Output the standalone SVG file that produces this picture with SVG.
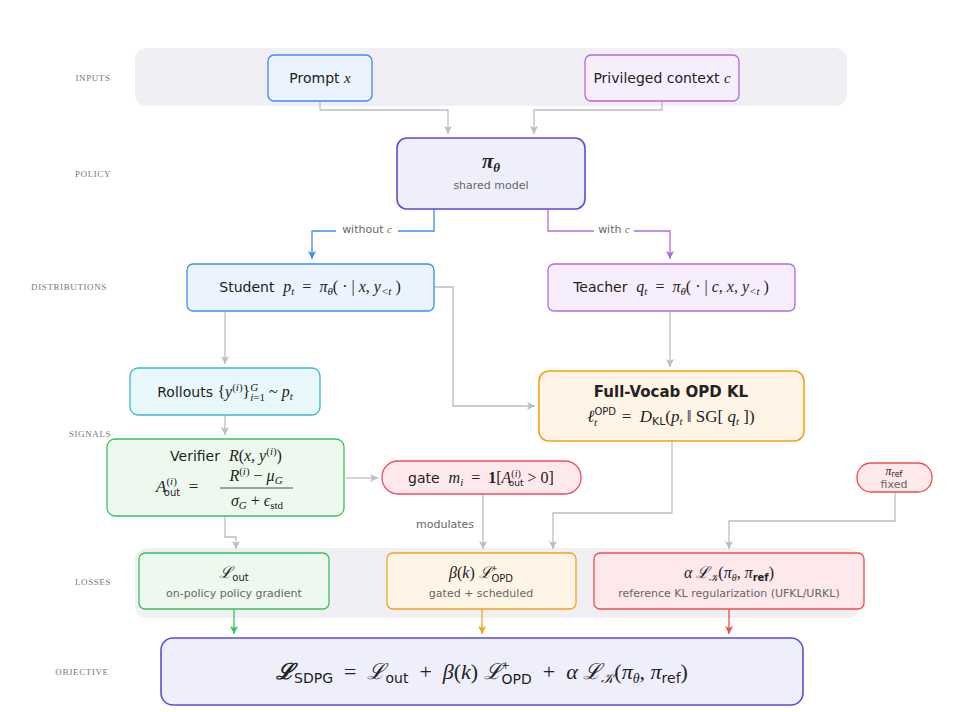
<svg xmlns="http://www.w3.org/2000/svg" width="960" height="712" viewBox="0 0 960 712">
<style>
text{white-space:pre}
.lbl{font-family:"Liberation Serif",serif;font-size:9px;fill:#777;letter-spacing:0.6px;text-anchor:middle}
.t{font-family:"DejaVu Sans","Noto Sans",sans-serif;font-size:14px;fill:#222;text-anchor:middle}
.s{font-family:"DejaVu Sans","Noto Sans",sans-serif;font-size:11px;fill:#666;text-anchor:middle}
.m{font-family:"Liberation Serif",serif;font-style:italic}
.r{font-family:"Liberation Serif",serif;font-style:normal}
.c{fill:none;stroke:#bdbdbd;stroke-width:1.3}
.band{fill:#f0f0f4}
</style>
<defs>
<marker id="ag" markerWidth="10" markerHeight="10" refX="8" refY="5" orient="auto" markerUnits="userSpaceOnUse"><path d="M0,1 L8,5 L0,9 L2,5 Z" fill="#bdbdbd"/></marker>
<marker id="ab" markerWidth="10" markerHeight="10" refX="8" refY="5" orient="auto" markerUnits="userSpaceOnUse"><path d="M0,1 L8,5 L0,9 L2,5 Z" fill="#3b8ef0"/></marker>
<marker id="ap" markerWidth="10" markerHeight="10" refX="8" refY="5" orient="auto" markerUnits="userSpaceOnUse"><path d="M0,1 L8,5 L0,9 L2,5 Z" fill="#b36be0"/></marker>
<marker id="agr" markerWidth="10" markerHeight="10" refX="8" refY="5" orient="auto" markerUnits="userSpaceOnUse"><path d="M0,1 L8,5 L0,9 L2,5 Z" fill="#3cc060"/></marker>
<marker id="ao" markerWidth="10" markerHeight="10" refX="8" refY="5" orient="auto" markerUnits="userSpaceOnUse"><path d="M0,1 L8,5 L0,9 L2,5 Z" fill="#f5a020"/></marker>
<marker id="ar" markerWidth="10" markerHeight="10" refX="8" refY="5" orient="auto" markerUnits="userSpaceOnUse"><path d="M0,1 L8,5 L0,9 L2,5 Z" fill="#f04c4c"/></marker>
</defs>
<rect width="960" height="712" fill="#fff"/>
<rect class="band" x="135" y="48" width="712" height="58" rx="12"/>
<rect class="band" x="135" y="548" width="725" height="70" rx="12"/>
<g id="labels">
<text class="lbl" x="93" y="81">INPUTS</text>
<text class="lbl" x="93" y="177">POLICY</text>
<text class="lbl" x="69" y="290">DISTRIBUTIONS</text>
<text class="lbl" x="90" y="437">SIGNALS</text>
<text class="lbl" x="93" y="585">LOSSES</text>
<text class="lbl" x="82" y="675">OBJECTIVE</text>
</g>
<g id="connectors">
<path class="c" d="M320,101 V110 H448 V134" marker-end="url(#ag)"/>
<path class="c" d="M662,101 V110 H534 V134" marker-end="url(#ag)"/>
<path d="M434,209 V231 H312 V259" fill="none" stroke="#3b8ef0" stroke-width="1.3" marker-end="url(#ab)"/>
<path d="M548,209 V231 H670 V259" fill="none" stroke="#b36be0" stroke-width="1.3" marker-end="url(#ap)"/>
<path class="c" d="M225,311 V364" marker-end="url(#ag)"/>
<path class="c" d="M434,287 H453 V406 H535" marker-end="url(#ag)"/>
<path class="c" d="M670,311 V367" marker-end="url(#ag)"/>
<path class="c" d="M225,415 V435" marker-end="url(#ag)"/>
<path class="c" d="M346,478 H378" marker-end="url(#ag)"/>
<path class="c" d="M225,516 V537 H236 V549" marker-end="url(#ag)"/>
<path class="c" d="M483,494 V549" marker-end="url(#ag)"/>
<path class="c" d="M672,441 V513 H553 V549" marker-end="url(#ag)"/>
<path class="c" d="M895,492 V521 H729 V549" marker-end="url(#ag)"/>
<path d="M234,609 V634" fill="none" stroke="#3cc060" stroke-width="1.3" marker-end="url(#agr)"/>
<path d="M482,609 V634" fill="none" stroke="#f5a020" stroke-width="1.3" marker-end="url(#ao)"/>
<path d="M729,609 V634" fill="none" stroke="#f04c4c" stroke-width="1.3" marker-end="url(#ar)"/>
<rect x="336" y="222" width="62" height="14" fill="#fff"/>
<text class="s" x="367" y="233">without <tspan class="m">c</tspan></text>
<rect x="594" y="222" width="40" height="14" fill="#fff"/>
<text class="s" x="614" y="233">with <tspan class="m">c</tspan></text>
<text class="s" x="445" y="528">modulates</text>
</g>
<g id="prompt">
<rect x="268" y="55" width="104" height="46" rx="6" fill="#eaf3fe" stroke="#3b8ef0" stroke-width="1.3"/>
<text class="t" x="320" y="83">Prompt <tspan class="m" font-size="15">x</tspan></text>
</g>
<g id="privileged">
<rect x="585" y="55" width="154" height="46" rx="6" fill="#f7eefd" stroke="#b36be0" stroke-width="1.3"/>
<text class="t" x="662" y="83">Privileged context <tspan class="m" font-size="15">c</tspan></text>
</g>
<g id="policy">
<rect x="397" y="138" width="188" height="71" rx="10" fill="#efeefb" stroke="#5a4fd6" stroke-width="1.6"/>
<text class="t" x="491" y="168" style="font-size:21px"><tspan class="m" font-weight="bold">π</tspan><tspan class="m" font-weight="bold" font-size="13" dy="4">θ</tspan></text>
<text class="s" x="491" y="189">shared model</text>
</g>
<g id="student">
<rect x="187" y="264" width="247" height="47" rx="6" fill="#eaf3fe" stroke="#3b8ef0" stroke-width="1.3"/>
<text class="t" x="310" y="292">Student  <tspan class="m" font-size="16">p</tspan><tspan class="m" font-size="11" dy="3">t</tspan><tspan class="r" font-size="16" dy="-3">  =  </tspan><tspan class="m" font-size="16">π</tspan><tspan class="m" font-size="11" dy="3">θ</tspan><tspan class="r" font-size="16" dy="-3">( · | </tspan><tspan class="m" font-size="16">x</tspan><tspan class="r" font-size="16">, </tspan><tspan class="m" font-size="16">y</tspan><tspan class="m" font-size="11" dy="3">&lt;t</tspan><tspan class="r" font-size="16" dy="-3"> )</tspan></text>
</g>
<g id="teacher">
<rect x="548" y="264" width="247" height="47" rx="6" fill="#f7eefd" stroke="#b36be0" stroke-width="1.3"/>
<text class="t" x="671" y="292">Teacher  <tspan class="m" font-size="16">q</tspan><tspan class="m" font-size="11" dy="3">t</tspan><tspan class="r" font-size="16" dy="-3">  =  </tspan><tspan class="m" font-size="16">π</tspan><tspan class="m" font-size="11" dy="3">θ</tspan><tspan class="r" font-size="16" dy="-3">( · | </tspan><tspan class="m" font-size="16">c</tspan><tspan class="r" font-size="16">, </tspan><tspan class="m" font-size="16">x</tspan><tspan class="r" font-size="16">, </tspan><tspan class="m" font-size="16">y</tspan><tspan class="m" font-size="11" dy="3">&lt;t</tspan><tspan class="r" font-size="16" dy="-3"> )</tspan></text>
</g>
<g id="rollouts">
<rect x="130" y="368" width="190" height="47" rx="8" fill="#e8f7fa" stroke="#3bb8d0" stroke-width="1.3"/>
<text class="t" x="225" y="397">Rollouts <tspan class="r" font-size="16">{</tspan><tspan class="m" font-size="16">y</tspan><tspan class="r" font-size="11" dy="-6">(</tspan><tspan class="m" font-size="11">i</tspan><tspan class="r" font-size="11">)</tspan><tspan class="r" font-size="16" dy="6">}</tspan><tspan class="m" font-size="11" dy="-6">G</tspan><tspan class="m" font-size="11" dy="10" dx="-8">i</tspan><tspan class="r" font-size="11">=1</tspan><tspan class="r" font-size="16" dy="-4"> ~ </tspan><tspan class="m" font-size="16">p</tspan><tspan class="m" font-size="11" dy="3">t</tspan></text>
</g>
<g id="fullvocab">
<rect x="539" y="371" width="265" height="70" rx="10" fill="#fff5e6" stroke="#f5a020" stroke-width="1.6"/>
<text class="t" x="671" y="397" font-weight="bold" style="font-size:15px">Full-Vocab OPD KL</text>
<text class="t" x="671" y="422"><tspan class="m" font-size="17">ℓ</tspan><tspan font-size="10" dy="-7">OPD</tspan><tspan class="m" font-size="11" dy="11" dx="-22">t</tspan><tspan class="r" font-size="17" dy="-4" dx="16">  =  </tspan><tspan class="m" font-size="17">D</tspan><tspan font-size="11" dy="3">KL</tspan><tspan class="r" font-size="17" dy="-3">(</tspan><tspan class="m" font-size="17">p</tspan><tspan class="m" font-size="11" dy="3">t</tspan><tspan class="r" font-size="17" dy="-3"> ‖ SG[ </tspan><tspan class="m" font-size="17">q</tspan><tspan class="m" font-size="11" dy="3">t</tspan><tspan class="r" font-size="17" dy="-3"> ])</tspan></text>
</g>
<g id="verifier">
<rect x="107" y="439" width="237" height="77" rx="8" fill="#edf9ef" stroke="#3cc060" stroke-width="1.3"/>
<text class="t" x="226" y="461">Verifier  <tspan class="m" font-size="16">R</tspan><tspan class="r" font-size="16">(</tspan><tspan class="m" font-size="16">x, y</tspan><tspan class="r" font-size="11" dy="-6">(</tspan><tspan class="m" font-size="11">i</tspan><tspan class="r" font-size="11">)</tspan><tspan class="r" font-size="16" dy="6">)</tspan></text>
<text x="156" y="492" font-size="17" fill="#222"><tspan class="m">A</tspan><tspan class="r" font-size="11" dy="-7">(</tspan><tspan class="m" font-size="11">i</tspan><tspan class="r" font-size="11">)</tspan><tspan font-family="DejaVu Sans,sans-serif" font-size="10" dy="11" dx="-13">out</tspan><tspan class="r" dy="-4">  =  </tspan></text>
<text x="256" y="481" font-size="16" fill="#222" text-anchor="middle"><tspan class="m">R</tspan><tspan class="r" font-size="11" dy="-6">(</tspan><tspan class="m" font-size="11">i</tspan><tspan class="r" font-size="11">)</tspan><tspan class="r" dy="6"> − </tspan><tspan class="m">μ</tspan><tspan class="m" font-size="11" dy="3">G</tspan></text>
<line x1="220" y1="488" x2="293" y2="488" stroke="#222" stroke-width="0.8"/>
<text x="257" y="506" font-size="16" fill="#222" text-anchor="middle"><tspan class="m">σ</tspan><tspan class="m" font-size="11" dy="3">G</tspan><tspan class="r" dy="-3"> + </tspan><tspan class="m">ϵ</tspan><tspan class="r" font-size="11" dy="3">std</tspan></text>
</g>
<g id="gate">
<rect x="382" y="461" width="199" height="33" rx="16" fill="#fde8ec" stroke="#f04c64" stroke-width="1.3"/>
<text class="t" x="481" y="483">gate  <tspan class="m" font-size="16">m</tspan><tspan class="m" font-size="11" dy="3">i</tspan><tspan class="r" font-size="16" dy="-3">  =  </tspan><tspan class="r" font-size="16" font-weight="bold">1</tspan><tspan class="r" font-size="16">[</tspan><tspan class="m" font-size="16">A</tspan><tspan class="r" font-size="10" dy="-6">(</tspan><tspan class="m" font-size="10">i</tspan><tspan class="r" font-size="10">)</tspan><tspan font-size="9" dy="9" dx="-12">out</tspan><tspan class="r" font-size="16" dy="-3"> &gt; 0]</tspan></text>
</g>
<g id="piref">
<rect x="857" y="463" width="75" height="29" rx="14" fill="#fde8ec" stroke="#f04c4c" stroke-width="1.3"/>
<text class="t" x="894" y="475" style="font-size:12px"><tspan class="m">π</tspan><tspan font-size="8" dy="2">ref</tspan></text>
<text class="s" x="894" y="488">fixed</text>
</g>
<g id="lout">
<rect x="139" y="553" width="190" height="56" rx="6" fill="#edf9ef" stroke="#3cc060" stroke-width="1.3"/>
<text class="t" x="234" y="578"><tspan class="m" font-size="16">ℒ</tspan><tspan font-size="10" dy="3">out</tspan></text>
<text class="s" x="234" y="597">on-policy policy gradient</text>
</g>
<g id="lopd">
<rect x="387" y="553" width="189" height="56" rx="6" fill="#fff5e6" stroke="#f5a020" stroke-width="1.3"/>
<text class="t" x="481" y="578"><tspan class="m" font-size="16">β</tspan><tspan class="r" font-size="16">(</tspan><tspan class="m" font-size="16">k</tspan><tspan class="r" font-size="16">) </tspan><tspan class="m" font-size="16">ℒ</tspan><tspan class="r" font-size="10" dy="-6">+</tspan><tspan font-size="10" dy="10" dx="-6">OPD</tspan></text>
<text class="s" x="481" y="597">gated + scheduled</text>
</g>
<g id="lk">
<rect x="594" y="553" width="270" height="56" rx="6" fill="#fde8ec" stroke="#f04c4c" stroke-width="1.3"/>
<text class="t" x="729" y="578"><tspan class="m" font-size="16">α ℒ</tspan><tspan class="m" font-size="10" dy="3">𝒦</tspan><tspan class="r" font-size="16" dy="-3">(</tspan><tspan class="m" font-size="16">π</tspan><tspan class="m" font-size="10" dy="3">θ</tspan><tspan class="r" font-size="16" dy="-3">, </tspan><tspan class="m" font-size="16">π</tspan><tspan font-size="10" dy="3" font-weight="bold">ref</tspan><tspan class="r" font-size="16" dy="-3">)</tspan></text>
<text class="s" x="729" y="597">reference KL regularization (UFKL/URKL)</text>
</g>
<g id="objective">
<rect x="161" y="638" width="642" height="67" rx="12" fill="#efeefb" stroke="#5a4fd6" stroke-width="1.6"/>
<text class="t" x="482" y="679" style="font-size:22px"><tspan class="m" font-weight="bold">ℒ</tspan><tspan font-size="14" dy="4">SDPG</tspan><tspan class="r" dy="-4">  =  </tspan><tspan class="m">ℒ</tspan><tspan font-size="14" dy="4">out</tspan><tspan class="r" dy="-4">  +  </tspan><tspan class="m">β</tspan><tspan class="r">(</tspan><tspan class="m">k</tspan><tspan class="r">) </tspan><tspan class="m">ℒ</tspan><tspan class="r" font-size="14" dy="-9">+</tspan><tspan font-size="14" dy="14" dx="-8">OPD</tspan><tspan class="r" dy="-5">  +  </tspan><tspan class="m">α ℒ</tspan><tspan class="m" font-size="14" dy="4">𝒦</tspan><tspan class="r" dy="-4">(</tspan><tspan class="m">π</tspan><tspan class="m" font-size="14" dy="4">θ</tspan><tspan class="r" dy="-4">, </tspan><tspan class="m">π</tspan><tspan font-size="14" dy="4">ref</tspan><tspan class="r" dy="-4">)</tspan></text>
</g>
</svg>
